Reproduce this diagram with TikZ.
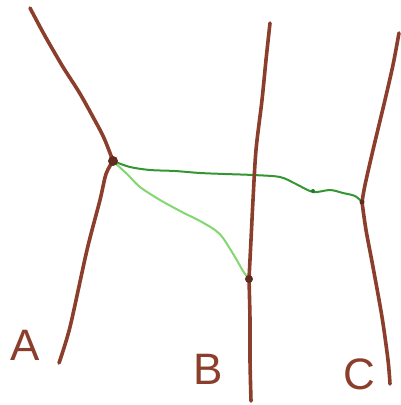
\documentclass[tikz,border=0pt]{standalone}
\usepackage{fontspec}
\setmainfont{Liberation Sans}
\definecolor{penbrown}{RGB}{140,62,44}
\definecolor{darkgreen}{RGB}{50,150,50}
\definecolor{lightgreen}{RGB}{130,215,110}
\tikzset{
  stem/.style={draw=penbrown,line width=3.6pt,line cap=round,line join=round},
  linkdark/.style={draw=darkgreen,line width=2pt,line cap=round},
  linklight/.style={draw=lightgreen,line width=2pt,line cap=round},
  knot/.style={circle,fill=penbrown!70!black,inner sep=0pt,minimum size=#1},
  lbl/.style={text=penbrown,font=\fontsize{44}{44}\selectfont,inner sep=0pt}
}
\begin{document}
\begin{tikzpicture}[x=1pt,y=-1pt]
\useasboundingbox (0,0) rectangle (400,405);
% junctions
\coordinate (ja) at (113,161);
\coordinate (jb) at (249,279);
\coordinate (jc) at (362,202);
\coordinate (atop) at (30,8);
\coordinate (abot) at (59,363);
\coordinate (btop) at (270,23);
\coordinate (bbot) at (251,401);
\coordinate (ctop) at (399,33);
\coordinate (cbot) at (390,384);
% green links
\draw[linkdark] plot[smooth] coordinates {(ja) (130,167) (150,170) (175,171) (200,173) (225,174) (253,175) (280,177) (296,184) (313,192) (330,190) (343,193) (355,196) (jc)};
\draw[linklight] plot[smooth] coordinates {(ja) (128,175) (140,187) (160,200) (182,212) (200,221) (215,230) (223,238) (235,257) (243,271) (jb)};
% brown stems
\draw[stem] plot[smooth] coordinates {(atop) (45,36) (63,67) (79,92) (93,117) (104,138) (ja)};
\draw[stem] plot[smooth] coordinates {(ja) (106,174) (100,200) (87,250) (70,327) (abot)};
\draw[stem] plot[smooth] coordinates {(btop) (266,60) (262,100) (256,150) (253,200) (251,240) (jb)};
\draw[stem] plot[smooth] coordinates {(jb) (250,320) (250,360) (bbot)};
\draw[stem] plot[smooth] coordinates {(ctop) (393,65) (385,100) (373,150) (365,185) (jc)};
\draw[stem] plot[smooth] coordinates {(jc) (366,230) (373,267) (382,317) (388,360) (cbot)};
% knots
\node[knot=10pt] (ka) at (ja) {};
\node[knot=8pt] (kb) at (jb) {};
\node[knot=5pt] (kc) at (jc) {};
\node[knot=4pt,fill=darkgreen!80!black] (kg) at (313,191) {};
% labels
\node[lbl] (la) at (25,345) {A};
\node[lbl] (lb) at (208,369) {B};
\node[lbl] (lc) at (359,374) {C};
\end{tikzpicture}
\end{document}
